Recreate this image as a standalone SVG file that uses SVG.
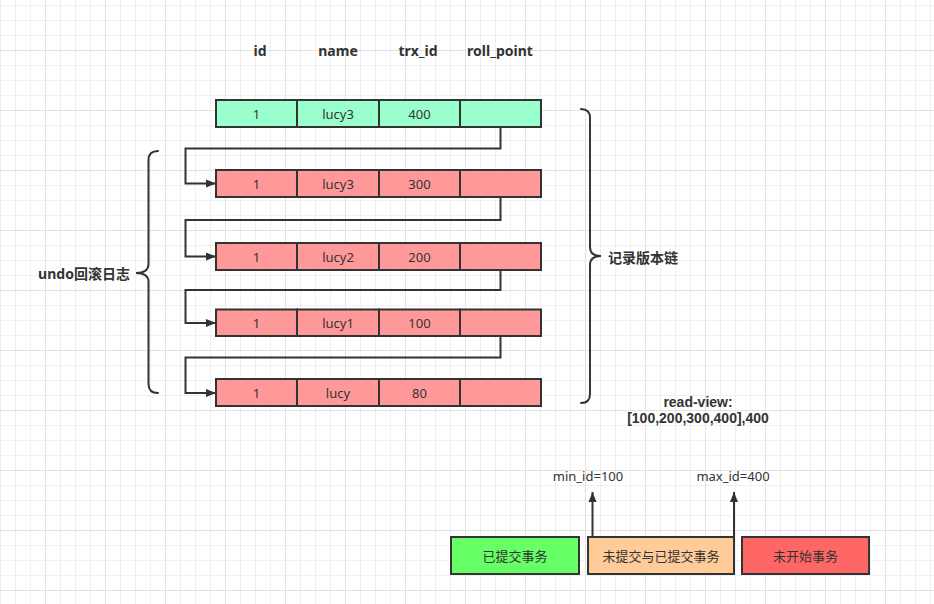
<svg xmlns="http://www.w3.org/2000/svg" width="934" height="604" viewBox="0 0 934 604">
  <defs>
    <pattern id="grid-minor" width="15" height="15" patternUnits="userSpaceOnUse" x="0" y="5">
      <path d="M 0.5 0 V 15 M 0 0.5 H 15" fill="none" stroke="#f0f0f0" stroke-width="1"/>
    </pattern>
    <pattern id="grid-major" width="60" height="60" patternUnits="userSpaceOnUse" x="45" y="50">
      <path d="M 0.5 0 V 60 M 0 0.5 H 60" fill="none" stroke="#e2e2e2" stroke-width="1"/>
    </pattern>
    <marker id="arrow" markerWidth="10" markerHeight="10" refX="10" refY="5" orient="auto" markerUnits="userSpaceOnUse">
      <path d="M 0 1 L 10 5 L 0 9 Z" fill="#333333"/>
    </marker>
  </defs>
  <style>
    .cell { stroke: #333333; stroke-width: 2; }
    .cur { fill: #99ffcc; }
    .old { fill: #ff9999; }
    .txt { font-family: "Noto Sans", "Noto Sans CJK SC", sans-serif; font-size: 13px; fill: #333333; text-anchor: middle; dominant-baseline: central; }
    .head { font-family: "Noto Sans", "Noto Sans CJK SC", sans-serif; font-size: 14px; font-weight: bold; fill: #333333; text-anchor: middle; dominant-baseline: central; }
    .note { font-family: "Liberation Sans", "Noto Sans CJK SC", sans-serif; font-size: 14px; font-weight: bold; fill: #333333; text-anchor: middle; dominant-baseline: central; }
    .link { fill: none; stroke: #333333; stroke-width: 2; }
    .brace { fill: none; stroke: #333333; stroke-width: 2; stroke-linecap: round; }
  </style>

  <!-- background grid -->
  <rect width="934" height="604" fill="#ffffff"/>
  <rect width="934" height="604" fill="url(#grid-minor)"/>
  <rect width="934" height="604" fill="url(#grid-major)"/>

  <!-- column headers -->
  <g id="headers">
    <text class="head" x="260" y="50">id</text>
    <text class="head" x="338" y="50">name</text>
    <text class="head" x="418" y="50">trx_id</text>
    <text class="head" x="500" y="50">roll_point</text>
  </g>

  <!-- record versions -->
  <g id="row-400">
    <rect class="cell cur" x="216" y="100" width="81" height="27"/>
    <rect class="cell cur" x="297" y="100" width="82" height="27"/>
    <rect class="cell cur" x="379" y="100" width="81" height="27"/>
    <rect class="cell cur" x="460" y="100" width="81" height="27"/>
    <text class="txt" x="256.5" y="113.5">1</text>
    <text class="txt" x="338" y="113.5">lucy3</text>
    <text class="txt" x="419.5" y="113.5">400</text>
  </g>
  <g id="row-300">
    <rect class="cell old" x="216" y="170" width="81" height="27"/>
    <rect class="cell old" x="297" y="170" width="82" height="27"/>
    <rect class="cell old" x="379" y="170" width="81" height="27"/>
    <rect class="cell old" x="460" y="170" width="81" height="27"/>
    <text class="txt" x="256.5" y="183.5">1</text>
    <text class="txt" x="338" y="183.5">lucy3</text>
    <text class="txt" x="419.5" y="183.5">300</text>
  </g>
  <g id="row-200">
    <rect class="cell old" x="216" y="243" width="81" height="27"/>
    <rect class="cell old" x="297" y="243" width="82" height="27"/>
    <rect class="cell old" x="379" y="243" width="81" height="27"/>
    <rect class="cell old" x="460" y="243" width="81" height="27"/>
    <text class="txt" x="256.5" y="256.5">1</text>
    <text class="txt" x="338" y="256.5">lucy2</text>
    <text class="txt" x="419.5" y="256.5">200</text>
  </g>
  <g id="row-100">
    <rect class="cell old" x="216" y="309.5" width="81" height="26.5"/>
    <rect class="cell old" x="297" y="309.5" width="82" height="26.5"/>
    <rect class="cell old" x="379" y="309.5" width="81" height="26.5"/>
    <rect class="cell old" x="460" y="309.5" width="81" height="26.5"/>
    <text class="txt" x="256.5" y="323">1</text>
    <text class="txt" x="338" y="323">lucy1</text>
    <text class="txt" x="419.5" y="323">100</text>
  </g>
  <g id="row-80">
    <rect class="cell old" x="216" y="379" width="81" height="27"/>
    <rect class="cell old" x="297" y="379" width="82" height="27"/>
    <rect class="cell old" x="379" y="379" width="81" height="27"/>
    <rect class="cell old" x="460" y="379" width="81" height="27"/>
    <text class="txt" x="256.5" y="392.5">1</text>
    <text class="txt" x="338" y="392.5">lucy</text>
    <text class="txt" x="419.5" y="392.5">80</text>
  </g>

  <!-- roll pointers between versions -->
  <g id="connectors">
    <path class="link" d="M 500.5 127 V 148.5 H 185.5 V 183.5 H 216" marker-end="url(#arrow)"/>
    <path class="link" d="M 500.5 197 V 220 H 185.5 V 256.5 H 216" marker-end="url(#arrow)"/>
    <path class="link" d="M 500.5 270 V 290 H 185.5 V 323 H 216" marker-end="url(#arrow)"/>
    <path class="link" d="M 500.5 336 V 357.5 H 185.5 V 393 H 216" marker-end="url(#arrow)"/>
    <path class="link" d="M 592.5 537 V 492" marker-end="url(#arrow)"/>
    <path class="link" d="M 734 537 V 492" marker-end="url(#arrow)"/>
  </g>

  <!-- undo log brace -->
  <g id="undo-brace">
    <path class="brace" d="M 158 151 Q 148.5 151 148.5 160 V 264 Q 148.5 273 136 273 Q 148.5 273 148.5 282 V 384 Q 148.5 393 158 393"/>
    <text class="head" x="84" y="273">undo回滚日志</text>
  </g>

  <!-- version chain brace -->
  <g id="chain-brace">
    <path class="brace" d="M 581 109 Q 590 109 590 118 V 247 Q 590 256 601 256 Q 590 256 590 265 V 394 Q 590 403 581 403"/>
    <text class="head" x="643" y="257">记录版本链</text>
  </g>

  <!-- read view -->
  <g id="read-view">
    <text class="note" x="698" y="401.5">read-view:</text>
    <text class="note" x="698" y="417.5">[100,200,300,400],400</text>
  </g>

  <g id="min-id">
    <text class="txt" x="588" y="476">min_id=100</text>
  </g>
  <g id="max-id">
    <text class="txt" x="733" y="476">max_id=400</text>
  </g>

  <!-- transaction ranges -->
  <g id="committed">
    <rect class="cell" x="451" y="537" width="128" height="37" fill="#66ff66"/>
    <text class="txt" x="515" y="555.5">已提交事务</text>
  </g>
  <g id="active">
    <rect class="cell" x="588" y="537" width="146" height="37" fill="#ffcc99"/>
    <text class="txt" x="661" y="555.5">未提交与已提交事务</text>
  </g>
  <g id="future">
    <rect class="cell" x="742" y="537" width="127" height="37" fill="#ff6666"/>
    <text class="txt" x="805.5" y="555.5">未开始事务</text>
  </g>
</svg>
